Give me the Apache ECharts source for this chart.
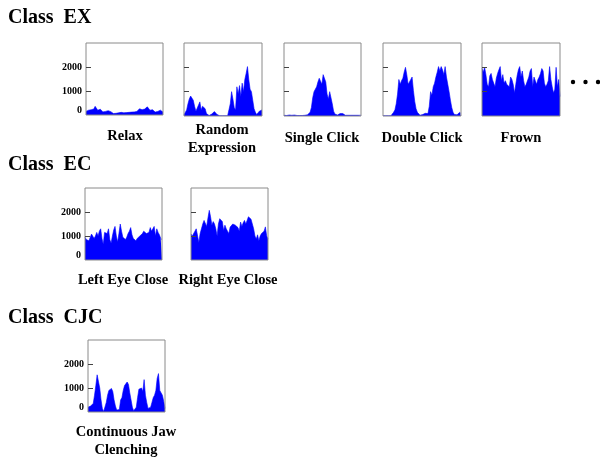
<!DOCTYPE html>
<html><head><meta charset="utf-8">
<script src="https://cdn.jsdelivr.net/npm/echarts@6/dist/echarts.min.js"></script>
<style>html,body{margin:0;padding:0;background:#fff}#c{width:600px;height:459px}</style>
</head><body><div id="c"></div>
<script>
// ---- data (amplitude values, 60 samples per panel) ----
const relax = [150,120,200,180,220,160,250,360,300,200,160,240,180,130,200,150,120,180,240,140,80,60,100,70,120,90,60,110,150,90,120,100,140,110,90,120,100,130,90,150,200,260,180,220,300,250,200,340,280,200,150,220,180,120,200,150,100,200,240,120];
const randomExpression = [50,100,250,500,700,820,880,650,400,200,150,450,580,250,400,480,300,100,40,20,30,80,150,180,120,60,20,10,20,10,30,10,20,10,50,500,1000,700,350,250,1200,900,1250,800,1350,1000,1500,1750,2030,1500,1100,1000,650,300,150,60,100,200,180,250];
const singleClick = [30,40,20,30,40,20,30,20,40,30,20,30,20,30,20,30,30,40,50,80,150,350,750,1000,1050,1200,1400,1550,1600,1300,1700,1770,1400,900,700,1000,950,500,200,80,30,40,80,100,90,100,60,30,20,30,20,30,20,30,20,30,20,30,20,30];
const doubleClick = [10,10,10,10,10,20,10,60,150,250,500,900,1500,1300,1450,1550,1800,2000,1700,1300,1400,1500,1600,1050,600,300,150,80,30,20,60,100,110,80,100,400,1000,850,1200,1350,1600,1800,2030,1850,2030,1900,1700,2030,1600,1300,1000,650,350,150,60,20,50,100,150,100];
const frown = [1960,1800,2000,1700,1300,1200,1650,1750,1500,1450,1200,1550,1750,1900,2030,1450,1700,1350,1450,1300,1250,1200,1600,1500,1300,950,1300,1650,1900,2030,1600,1850,1450,1200,1300,1350,1600,1850,1950,1200,1600,1450,1300,1500,1600,1750,1950,1850,1350,1200,1300,1450,2030,1500,1200,950,1100,2000,1200,1500,800];
const leftEyeClose = [950,850,880,800,820,1080,1050,900,1000,1150,1000,1200,1300,900,660,1150,1200,1100,1300,850,700,1000,1250,1400,1000,750,1100,1500,1200,950,900,850,950,1100,1200,1350,1050,900,850,800,900,950,1000,1050,1100,1200,1220,1100,1050,1150,1350,1200,1300,1400,1000,1300,1150,1050,900,850];
const rightEyeClose = [1085,1000,1020,1200,1300,1370,730,1100,1300,1500,1650,1580,1400,1750,2070,1800,1450,1600,1500,1300,1000,1500,1720,1650,1600,1230,1450,1300,1200,1100,1370,1300,1500,1580,1450,1500,1350,1200,1580,1400,1550,1650,1500,1650,1800,1750,1700,1500,1300,1000,870,1050,800,1000,1100,1150,1200,1380,1000,870];
const jawClenching = [200,150,250,200,350,700,1100,1550,1600,1000,500,150,20,100,400,700,900,950,980,850,500,250,80,20,100,500,600,900,1100,1050,1250,1150,800,500,200,50,30,200,600,950,900,1000,850,1350,700,400,150,100,200,400,600,700,900,1400,1600,900,850,700,450,150];

const yMin = 0, yMax = 3000;
const tickValues = [1000, 2000];
const tickLabels = [0, 1000, 2000];

const sectionTitles = ['Class  EX', 'Class  EC', 'Class  CJC'];
const panelLabels = [
  ['Relax'], ['Random', 'Expression'], ['Single Click'], ['Double Click'], ['Frown'],
  ['Left Eye Close'], ['Right Eye Close'], ['Continuous Jaw', 'Clenching']
];
const panelSeries = [relax, randomExpression, singleClick, doubleClick, frown, leftEyeClose, rightEyeClose, jawClenching];

// ---- layout ----
const grids = [
  {left: 86, top: 43, width: 77, height: 72},
  {left: 184, top: 43, width: 78, height: 73},
  {left: 284, top: 43, width: 77, height: 73},
  {left: 383, top: 43, width: 78, height: 73},
  {left: 482, top: 43, width: 78, height: 73},
  {left: 85, top: 188, width: 77, height: 72},
  {left: 191, top: 188, width: 77, height: 72},
  {left: 88, top: 340, width: 77, height: 72}
];
const labelled = [true, false, false, false, false, true, false, true];
const labelPos = [[125,136],[222,130],[322,138],[422,138],[521,138],[123,280],[228,280],[126,432]];
const titlePos = [[8,18],[8,165],[8,318]];

const FONT = '"Liberation Serif","Times New Roman",serif';
const blue = '#0000ff';

const option = {
  animation: false,
  backgroundColor: '#fff',
  grid: grids.map(g => Object.assign({show: true, z: 4, borderColor: '#8a8a8a', borderWidth: 1, backgroundColor: 'transparent'}, g)),
  xAxis: grids.map((g, i) => ({
    type: 'category', gridIndex: i, boundaryGap: false, show: false,
    data: panelSeries[i].map((v, k) => k)
  })),
  yAxis: grids.map((g, i) => ({
    type: 'value', gridIndex: i, min: yMin, max: yMax, interval: 1000, z: 5,
    axisLine: {show: false},
    splitLine: {show: false},
    axisTick: {show: true, inside: true, length: 5, customValues: tickValues, lineStyle: {color: '#444', width: 1}},
    axisLabel: {
      show: labelled[i], margin: 4, customValues: tickLabels,
      fontFamily: FONT, fontWeight: 'bold', fontSize: 10, color: '#000',
      formatter: v => v === 0 ? '{z|0}' : String(v),
      rich: {z: {fontFamily: FONT, fontWeight: 'bold', fontSize: 10, color: '#000', padding: [0, 0, 10, 0]}}
    }
  })),
  series: panelSeries.map((d, i) => ({
    type: 'line', xAxisIndex: i, yAxisIndex: i, data: d,
    showSymbol: false, symbol: 'none', silent: true,
    lineStyle: {color: blue, width: 0.6},
    areaStyle: {color: blue, opacity: 1}
  })),
  graphic: [].concat(
    sectionTitles.map((t, i) => ({
      type: 'text', x: titlePos[i][0], y: titlePos[i][1],
      style: {text: t, font: 'bold 20px ' + FONT, fill: '#000', textAlign: 'left', textVerticalAlign: 'middle'}
    })),
    ...panelLabels.map((lines, i) => lines.map((t, k) => ({
      type: 'text', x: labelPos[i][0], y: labelPos[i][1] + k * 18,
      style: {text: t, font: 'bold 14.5px ' + FONT, fill: '#000', textAlign: 'center', textVerticalAlign: 'middle'}
    }))),
    [573, 585.5, 598].map(x => ({type: 'circle', shape: {cx: x, cy: 82, r: 2.2}, style: {fill: '#000'}}))
  )
};
echarts.init(document.getElementById('c'), null, {renderer: 'canvas'}).setOption(option);
</script>
</body></html>
